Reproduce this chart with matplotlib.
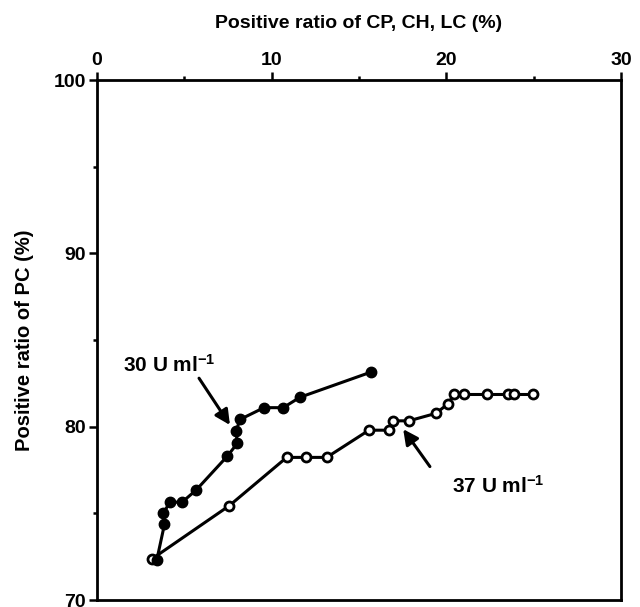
import matplotlib
matplotlib.use("Agg")
import matplotlib.pyplot as plt
from matplotlib.ticker import MultipleLocator

plt.rcParams['font.family'] = ['Liberation Sans', 'DejaVu Sans']
plt.rcParams['mathtext.default'] = 'regular'

# 30 U ml-1 (filled circles)
x30 = [3.42, 3.86, 3.80, 4.18, 4.85, 5.67, 7.46, 8.03, 7.96, 8.19, 9.56, 10.66, 11.62, 15.68]
y30 = [72.3, 74.36, 75.0, 75.67, 75.63, 76.34, 78.3, 79.04, 79.75, 80.42, 81.1, 81.1, 81.7, 83.15]

# 37 U ml-1 (open circles)
x37 = [3.13, 7.57, 10.86, 11.94, 13.15, 15.57, 16.73, 16.96, 17.86, 19.40, 20.07, 20.45, 21.0, 22.3, 23.55, 23.9, 24.97]
y37 = [72.36, 75.44, 78.23, 78.23, 78.23, 79.8, 79.8, 80.34, 80.34, 80.77, 81.3, 81.86, 81.86, 81.86, 81.86, 81.86, 81.86]

xlabel = "Positive ratio of CP, CH, LC (%)"
ylabel = "Positive ratio of PC (%)"
label30 = r"30 U ml$^{-1}$"
label37 = r"37 U ml$^{-1}$"

fig = plt.figure(figsize=(6.4, 6.07), dpi=100)
ax = fig.add_axes([0.1516, 0.0115, 0.8187, 0.8565])

ax.plot(x37, y37, '-o', color='black', lw=2.2, ms=6.5, mfc='white', mec='black', mew=2.0, zorder=3)
ax.plot(x30, y30, '-o', color='black', lw=2.2, ms=7.5, mfc='black', mec='black', zorder=4)

ax.set_xlim(0, 30)
ax.set_ylim(70, 100)

ax.xaxis.tick_top()
ax.xaxis.set_label_position('top')
ax.xaxis.set_major_locator(MultipleLocator(10))
ax.xaxis.set_minor_locator(MultipleLocator(5))
ax.yaxis.set_major_locator(MultipleLocator(10))
ax.yaxis.set_minor_locator(MultipleLocator(5))

ax.tick_params(axis='both', which='major', direction='out', length=6, width=1.8,
               labelsize=14, pad=2)
ax.tick_params(axis='both', which='minor', direction='out', length=3, width=1.8)
for lab in ax.get_xticklabels() + ax.get_yticklabels():
    lab.set_fontweight('bold')

for sp in ax.spines.values():
    sp.set_linewidth(2.0)

ax.set_xlabel(xlabel, fontsize=14, fontweight='bold', labelpad=17)
ax.set_ylabel(ylabel, fontsize=14.5, fontweight='bold', labelpad=14)

arrow = dict(arrowstyle='-|>,head_length=0.9,head_width=0.45', color='black', lw=2.2,
             shrinkA=0, shrinkB=0)
ax.annotate('', xy=(7.61, 80.1), xytext=(5.84, 82.8), arrowprops=arrow)
ax.annotate('', xy=(17.53, 79.86), xytext=(19.06, 77.7), arrowprops=arrow)

ax.text(1.49, 83.55, label30, fontsize=15, fontweight='bold', va='center', ha='left')
ax.text(20.3, 76.6, label37, fontsize=15, fontweight='bold', va='center', ha='left')

fig.savefig('out.png', dpi=100)
